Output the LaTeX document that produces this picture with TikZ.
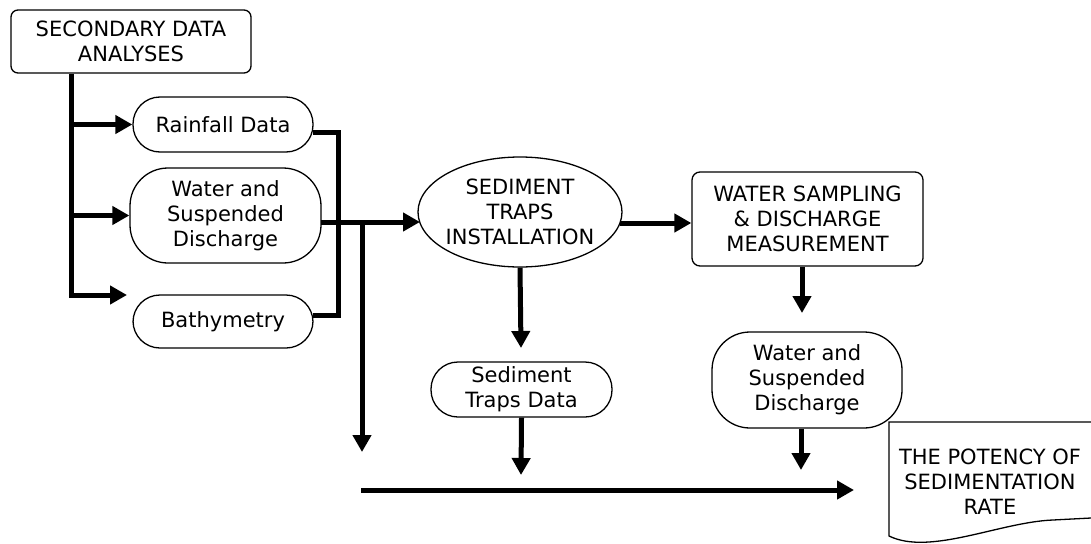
\documentclass[tikz,border=0pt]{standalone}
\usepackage{fontspec}
\setmainfont{DejaVu Sans}
\usetikzlibrary{arrows.meta,shapes.geometric}
\begin{document}
\begin{tikzpicture}[x=1pt,y=-1pt,
  base/.style={draw, line width=1.3pt, align=center, inner sep=0pt, font=\fontsize{21}{25}\selectfont},
  rbox/.style={base, rectangle, rounded corners=7pt},
  pill/.style={base, rectangle, rounded corners=27pt},
  bigpill/.style={base, rectangle, rounded corners=38pt},
  oval/.style={base, ellipse, inner xsep=-30pt, inner ysep=-15pt},
  plain/.style={align=center, inner sep=0pt, font=\fontsize{21}{25}\selectfont},
  conn/.style={line width=5pt},
  arr/.style={conn, -{Triangle[length=17pt,width=18pt]}},
]
\useasboundingbox (0,0) rectangle (1091,543);

% nodes
\node[rbox, minimum width=240pt, minimum height=63pt] (sda) at (131,41.5) {SECONDARY DATA\\ANALYSES};
\node[pill, minimum width=180pt, minimum height=55pt] (rain) at (223,124.5) {Rainfall Data};
\node[bigpill, minimum width=191pt, minimum height=95pt] (wsd) at (225.5,215.5) {Water and\\Suspended\\Discharge};
\node[pill, minimum width=180pt, minimum height=53pt] (bath) at (223,321.5) {Bathymetry};
\node[oval, minimum width=204pt, minimum height=110pt] (sti) at (520,212) {SEDIMENT\\TRAPS\\INSTALLATION};
\node[rbox, rounded corners=8pt, minimum width=231pt, minimum height=94pt] (ws) at (807.5,219) {WATER SAMPLING\\\& DISCHARGE\\MEASUREMENT};
\node[pill, minimum width=181pt, minimum height=55pt] (std) at (521.5,389.5) {Sediment\\Traps Data};
\node[bigpill, minimum width=190pt, minimum height=96pt] (wsd2) at (807,380) {Water and\\Suspended\\Discharge};
\node[plain] (pot) at (990,482) {THE POTENCY OF\\SEDIMENTATION\\RATE};

% document shape around the result
\draw[line width=1.3pt] (1091,422) -- (889,422) -- (889,536)
  .. controls (930,556) and (1000,522) .. (1053,520) -- (1091,518);

% coordinates
\coordinate (trunkTop) at (sda.south -| 71,0);
\coordinate (trunkBot) at (71,295);
\coordinate (bathTip) at (127,295);
\coordinate (rainOut) at (313,132);
\coordinate (bathOut) at (313,315);
\coordinate (bracketTop) at (338,132);
\coordinate (bracketBot) at (338,315);
\coordinate (wsdOut) at (321,222);
\coordinate (stiIn) at (420,222);
\coordinate (branch) at (362,222);
\coordinate (branchTip) at (362,452);
\coordinate (baseL) at (361,490);
\coordinate (baseR) at (854,490);
\coordinate (stiOut) at (620,223);
\coordinate (stiTip) at (521,348);
\coordinate (stdTip) at (521,475);
\coordinate (wsTip) at (802,313);
\coordinate (wsd2Tip) at (801,470);

% connectors
\draw[arr, line join=miter] (trunkTop) -- (trunkBot) -- (bathTip);
\draw[arr] (trunkTop |- rain.west) -- (rain.west);
\draw[arr] (trunkTop |- wsd.west) -- (wsd.west);
\draw[conn, line join=miter] (rainOut) -- (bracketTop) -- (bracketBot) -- (bathOut);
\draw[arr] (wsdOut) -- (stiIn);
\draw[arr] (branch) -- (branchTip);
\draw[arr] (baseL) -- (baseR);
\draw[arr] (stiOut) -- (stiOut -| ws.west);
\draw[arr] (sti.south) -- (stiTip);
\draw[arr] (std.south) -- (stdTip);
\draw[arr] (ws.south -| wsTip) -- (wsTip);
\draw[arr] (wsd2.south -| wsd2Tip) -- (wsd2Tip);
\end{tikzpicture}
\end{document}
